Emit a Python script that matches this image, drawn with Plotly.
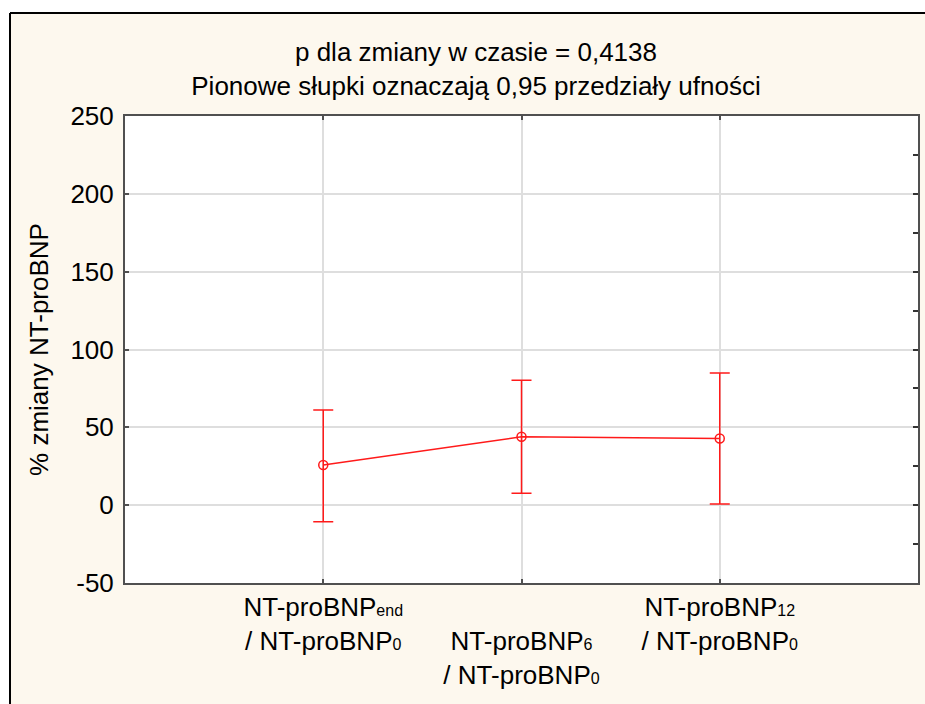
import plotly.graph_objects as go

SUB = '<span style="font-size:16px">{}</span>'

# Ratios of NT-proBNP relative to baseline (NT-proBNP0)
categories = [
    "NT-proBNP" + SUB.format("end") + "<br>/ NT-proBNP" + SUB.format("0"),
    "<br>NT-proBNP" + SUB.format("6") + "<br>/ NT-proBNP" + SUB.format("0"),
    "NT-proBNP" + SUB.format("12") + "<br>/ NT-proBNP" + SUB.format("0"),
]
# Mean % change and 0.95 confidence limits
mean_change = [25.8, 43.9, 42.8]
ci_upper = [61.1, 80.2, 84.9]
ci_lower = [-10.6, 7.6, 0.8]

y_ticks = [-50, 0, 50, 100, 150, 200, 250]
y_tick_labels = ["-50", "0", "50", "100", "150", "200", "250"]

title_lines = [
    "p dla zmiany w czasie = 0,4138",
    "Pionowe słupki oznaczają 0,95 przedziały ufności",
]
y_title = "% zmiany NT-proBNP"

FONT = "Liberation Sans, Arial, sans-serif"
CREAM = "#fdf8ee"
RED = "#ff1a1a"
AXIS = "#505050"
GRID = "#dedede"

err_plus = [u - m for u, m in zip(ci_upper, mean_change)]
err_minus = [m - l for m, l in zip(mean_change, ci_lower)]

fig = go.Figure()
fig.add_trace(go.Scatter(
    x=categories,
    y=mean_change,
    mode="lines+markers",
    line=dict(color=RED, width=1.5),
    marker=dict(symbol="circle-open", size=9, color=RED, line=dict(width=1.5, color=RED)),
    error_y=dict(type="data", symmetric=False, array=err_plus, arrayminus=err_minus,
                 color=RED, thickness=1.5, width=10),
    showlegend=False,
))
# invisible trace on the right axis, which carries the right edge and its ticks
fig.add_trace(go.Scatter(x=[categories[0]], y=[None], yaxis="y2", showlegend=False,
                         hoverinfo="skip"))

# page edges and frame edges in paper units (plot area 125..918 px wide, 116..583 px tall)
px0 = -125 / 793
px1 = 1 + 7 / 793
py0 = -121 / 467
py1 = 1 + 116 / 467
fx0 = (10 - 125) / 793
fy1 = 1 + (116 - 13) / 467

fig.update_layout(
    width=925, height=704,
    margin=dict(l=125, r=7, t=116, b=121),
    paper_bgcolor=CREAM,
    plot_bgcolor="white",
    font=dict(family=FONT, size=26, color="black"),
    title=dict(
        text="<br>".join(title_lines),
        x=(476 - 125) / 793, xref="paper", xanchor="center",
        y=1 - 61 / 704, yref="container", yanchor="middle",
        font=dict(family=FONT, size=26, color="black"),
    ),
    xaxis=dict(
        type="category",
        range=[-1, 3],
        showgrid=True, gridcolor=GRID, gridwidth=1.5,
        showline=True, linecolor=AXIS, linewidth=2, mirror="ticks",
        ticks="inside", ticklen=4, tickcolor=AXIS, tickwidth=1.5,
        tickfont=dict(family=FONT, size=26, color="black"),
        zeroline=False,
    ),
    yaxis=dict(
        range=[-50, 250],
        tickvals=y_ticks,
        ticktext=y_tick_labels,
        showgrid=True, gridcolor=GRID, gridwidth=1.5,
        showline=True, linecolor=AXIS, linewidth=2, mirror=False,
        ticks="inside", ticklen=4, tickcolor=AXIS, tickwidth=1.5,
        ticklabelstandoff=4,
        tickfont=dict(family=FONT, size=26, color="black"),
        zeroline=False,
        title=dict(text=y_title, font=dict(family=FONT, size=26, color="black"), standoff=14),
    ),
    yaxis2=dict(
        overlaying="y", side="right", range=[-50, 250], dtick=25,
        showgrid=False, showticklabels=False, zeroline=False,
        ticks="inside", ticklen=5, tickcolor="#333333", tickwidth=1.5,
        showline=True, linecolor=AXIS, linewidth=2,
    ),
    shapes=[
        # white margin outside the panel: top strip and left strip
        dict(type="rect", xref="paper", yref="paper", layer="below",
             x0=px0, x1=px1, y0=fy1, y1=py1,
             fillcolor="white", line=dict(width=0)),
        dict(type="rect", xref="paper", yref="paper", layer="below",
             x0=px0, x1=fx0, y0=py0, y1=py1,
             fillcolor="white", line=dict(width=0)),
        # black frame: top and left edges of the panel
        dict(type="line", xref="paper", yref="paper", layer="below",
             x0=fx0, x1=px1, y0=fy1, y1=fy1, line=dict(color="black", width=2)),
        dict(type="line", xref="paper", yref="paper", layer="below",
             x0=fx0, x1=fx0, y0=py0, y1=fy1, line=dict(color="black", width=2)),
    ],
)

fig.write_html("out.html")
